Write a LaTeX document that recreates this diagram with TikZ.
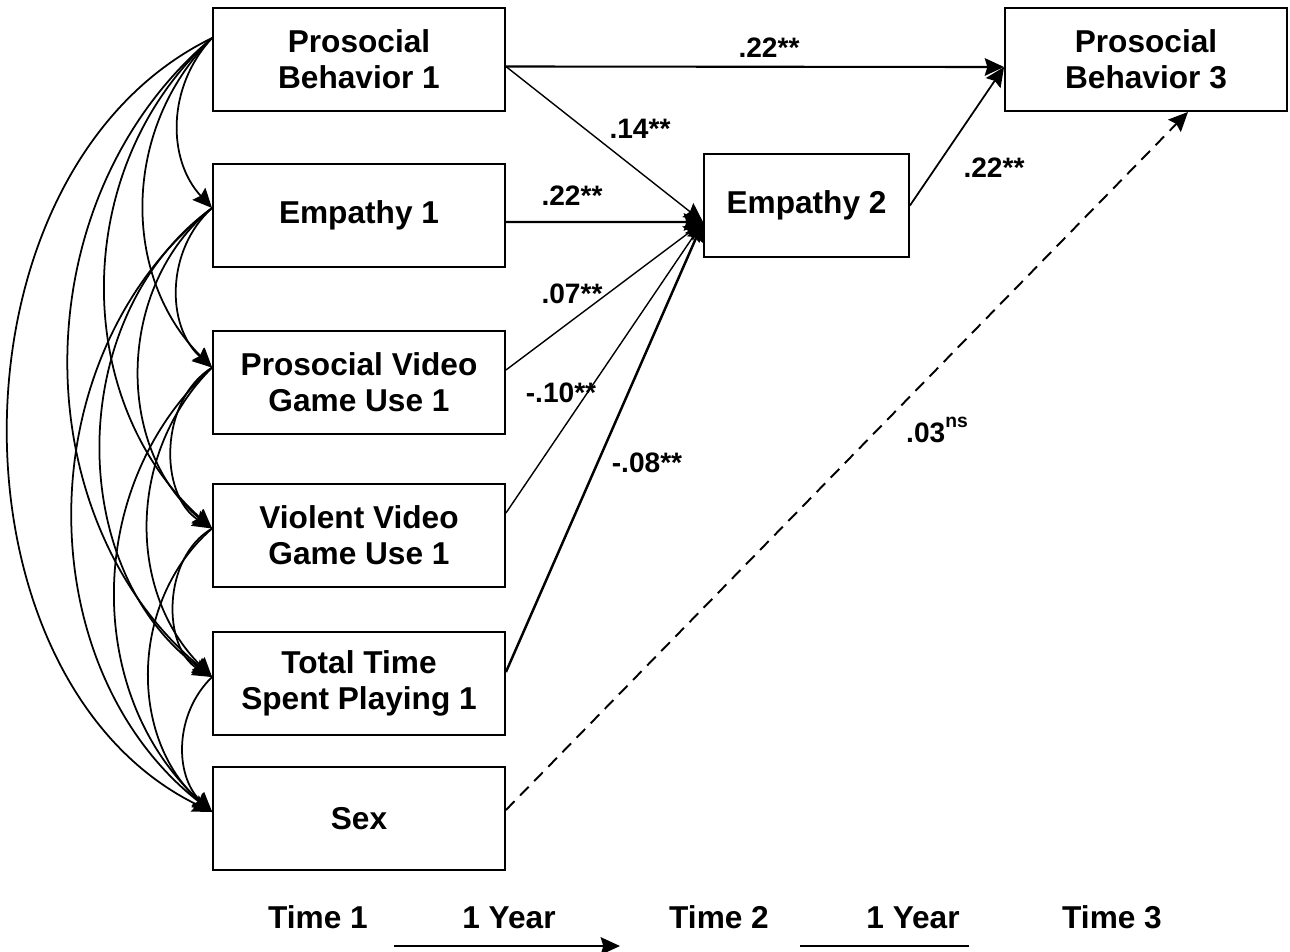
\documentclass[tikz,border=0pt]{standalone}
\usepackage{fontspec}
\setmainfont{Liberation Sans}
\usetikzlibrary{arrows.meta}
\tikzset{>={Stealth[length=11pt,width=10pt,inset=1.5pt]},font=\fontsize{18}{20.5}\selectfont\bfseries}
\tikzset{box/.style={draw,line width=1.1pt,minimum width=5.84cm,minimum height=2.06cm,align=center},
  lbl/.style={font=\fontsize{16}{16}\selectfont\bfseries,anchor=base,inner sep=0pt},
  corr/.style={->,line width=1pt},
  thinpath/.style={->,line width=0.8pt},
  thickpath/.style={->,line width=1.2pt}}

\begin{document}
\begin{tikzpicture}[x=0.02cm,y=-0.02cm]
\useasboundingbox (0,0) rectangle (1290,951);
% time 1 boxes
\node[box] (pb1) at (359,59.5) {Prosocial\\Behavior 1};
\node[box] (emp1) at (359,215.5) {Empathy 1};
\node[box] (pvg1) at (359,382.5) {Prosocial Video\\Game Use 1};
\node[box] (vvg1) at (359,535.5) {Violent Video\\Game Use 1};
\node[box] (tt1) at (359,683.5) {Total Time\\Spent Playing 1};
\node[box] (sex) at (359,818.5) {Sex};
% time 2 and 3
\node[box,minimum width=4.1cm] (emp2) at (806.5,205.5) {Empathy 2};
\node[box,minimum width=5.64cm] (pb3) at (1146,59.5) {Prosocial\\Behavior 3};
% correlations
\coordinate (l1) at ([yshift=0.43cm]pb1.west);
\coordinate (l2) at ([yshift=0.15cm]emp1.west);
\coordinate (l3) at ([yshift=0.3cm]pvg1.west);
\coordinate (l4) at ([yshift=0.14cm]vvg1.west);
\coordinate (l5) at ([yshift=0.13cm]tt1.west);
\coordinate (l6) at ([yshift=0.13cm]sex.west);
\path[corr] (l1) edge[bend right=43] (l2);
\path[corr] (l1) edge[bend right=45] (l3);
\path[corr] (l1) edge[bend right=48] (l4);
\path[corr] (l1) edge[bend right=50] (l5);
\path[corr] (l1) edge[bend right=64] (l6);
\path[corr] (l2) edge[bend right=48] (l3);
\path[corr] (l2) edge[bend right=51] (l4);
\path[corr] (l2) edge[bend right=54] (l5);
\path[corr] (l2) edge[bend right=52] (l6);
\path[corr] (l3) edge[bend right=58] (l4);
\path[corr] (l3) edge[bend right=45] (l5);
\path[corr] (l3) edge[bend right=48] (l6);
\path[corr] (l4) edge[bend right=60] (l5);
\path[corr] (l4) edge[bend right=49] (l6);
\path[corr] (l5) edge[bend right=46] (l6);
% paths
\coordinate (e2in) at ([yshift=-0.33cm]emp2.west);
\coordinate (p3in) at ([yshift=-0.15cm]pb3.west);
\path[thickpath] ([yshift=-0.14cm]pb1.east) edge (p3in);
\path[thinpath] ([yshift=-0.14cm]pb1.east) edge (e2in);
\path[thickpath] ([yshift=-0.13cm]emp1.east) edge (e2in);
\path[thinpath] ([yshift=0.25cm]pvg1.east) edge (e2in);
\path[thinpath] ([yshift=0.45cm]vvg1.east) edge (e2in);
\path[->,line width=1.4pt] ([yshift=0.23cm]tt1.east) edge (e2in);
\path[->,line width=1pt] (emp2.east) edge (p3in);
\path[->,line width=1.1pt,dash pattern=on 7pt off 4.5pt] ([yshift=0.17cm]sex.east) edge ([xshift=0.84cm]pb3.south);
% weights
\node[lbl] (w1) at (769,57) {.22**};
\node[lbl] (w2) at (640,138) {.14**};
\node[lbl] (w3) at (572,205) {.22**};
\node[lbl] (w4) at (994,177) {.22**};
\node[lbl] (w5) at (572,303) {.07**};
\node[lbl] (w6) at (561,402) {-.10**};
\node[lbl] (w7) at (647,472) {-.08**};
\node[lbl] (w8) at (937,442) {.03\raisebox{8pt}{\fontsize{11}{11}\selectfont ns}};
% timeline
\node[anchor=base] (t1) at (318,928) {Time 1};
\node[anchor=base] (yr1) at (509,928) {1 Year};
\node[anchor=base] (t2) at (719,928) {Time 2};
\node[anchor=base] (yr2) at (913,928) {1 Year};
\node[anchor=base] (t3) at (1112,928) {Time 3};
\coordinate (a1) at (394,946);
\coordinate (a2) at (620,946);
\coordinate (b1) at (800,946);
\coordinate (b2) at (969,946);
\draw[->,line width=1.2pt] (a1) -- (a2);
\draw[line width=1.2pt] (b1) -- (b2);
\end{tikzpicture}
\end{document}
